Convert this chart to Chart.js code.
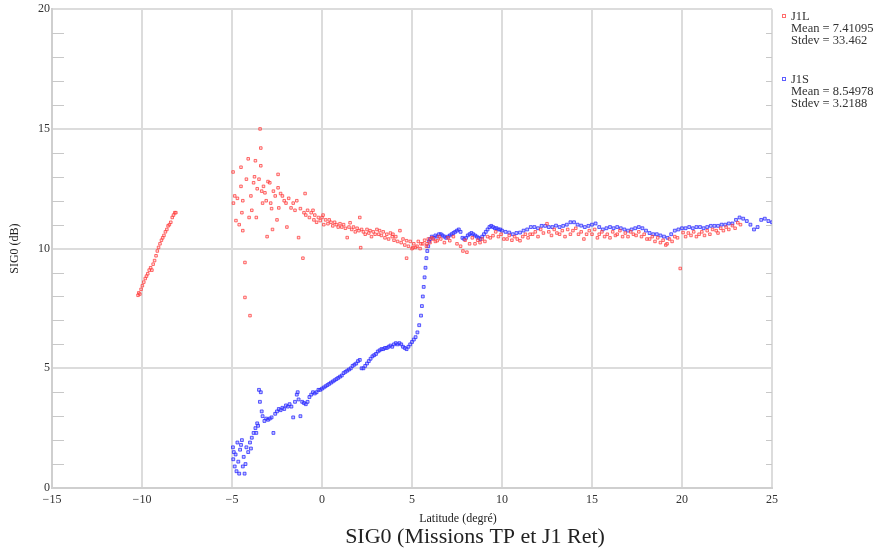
<!DOCTYPE html>
<html><head><meta charset="utf-8">
<script src="https://cdn.jsdelivr.net/npm/chart.js@4.4.1/dist/chart.umd.min.js"></script>
<style>html,body{margin:0;padding:0;background:#fff}#wrap{width:893px;height:552px;position:relative}</style>
</head><body><div id="wrap"><canvas id="c" width="893" height="552"></canvas></div>
<script>
// ---- data ----
const xTickLabels = [-15, -10, -5, 0, 5, 10, 15, 20, 25];
const yTickLabels = [0, 5, 10, 15, 20];
const seriesNames = ["J1L", "J1S"];
const seriesMeans = ["Mean = 7.41095", "Mean = 8.54978"];
const seriesStdevs = ["Stdev = 33.462", "Stdev = 3.2188"];

const j1lLat = [-10.22,-10.18,-10.12,-10.05,-9.98,-9.9,-9.82,-9.75,-9.68,-9.6,-9.52,-9.45,-9.38,-9.3,-9.22,-9.15,-9.08,-9.0,-8.92,-8.85,-8.78,-8.7,-8.62,-8.55,-8.48,-8.4,-8.32,-8.25,-8.18,-8.12,
-4.94,-4.92,-4.85,-4.78,-4.7,-4.6,-4.5,-4.5,-4.45,-4.4,-4.4,-4.28,-4.28,-4.2,-4.1,-4.05,-4.0,-3.95,-3.9,-3.8,-3.75,-3.7,-3.65,-3.6,-3.5,-3.44,-3.4,-3.4,-3.35,-3.3,-3.25,-3.17,-3.1,-3.05,-3.0,-2.9,-2.85,-2.8,-2.75,-2.7,-2.6,-2.5,-2.44,-2.44,-2.4,-2.3,-2.2,-2.1,-2.0,-1.95,-1.85,-1.72,-1.6,-1.5,-1.4,-1.3,-1.2,-1.06,-1.0,-0.94,-0.9,-0.8,-0.7,-0.6,-0.5,-0.45,-0.4,-0.3,-0.2,-0.1,0.0,0.06,0.1,0.2,0.33,0.4,0.5,0.6,0.7,0.8,0.9,1.0,1.1,1.2,1.3,1.4,1.5,1.56,1.65,1.75,1.85,1.95,2.05,2.1,2.15,2.2,2.3,2.4,2.5,2.6,2.67,2.75,2.85,2.95,3.05,3.15,3.2,3.3,3.4,3.5,3.6,3.7,3.8,3.9,3.94,4.0,4.1,4.2,4.33,4.4,4.5,4.6,4.7,4.7,4.8,4.9,5.0,5.05,5.1,5.2,5.28,5.35,5.45,5.5,5.6,5.7,5.8,5.83,5.9,6.0,6.1,6.17,6.3,6.4,6.5,
6.6,6.8,7.0,7.1,7.3,7.5,7.7,7.83,7.95,8.05,8.2,8.35,8.5,8.65,8.78,8.9,9.05,9.2,9.35,9.5,9.65,9.8,9.95,10.1,10.28,10.4,10.55,10.7,10.85,11.0,11.15,11.3,11.45,11.56,11.7,11.85,12.0,12.15,12.3,12.5,12.6,12.75,12.9,13.05,13.2,13.35,13.5,13.65,13.8,13.94,14.1,14.25,14.4,14.55,14.7,14.85,15.0,15.15,15.3,15.4,15.55,15.7,15.85,16.0,16.15,16.3,16.4,16.55,16.7,16.85,17.0,17.15,17.3,17.45,17.6,17.75,17.9,18.05,18.2,18.35,18.5,18.65,18.8,18.95,19.1,19.17,19.3,19.45,19.6,19.75,19.9,20.06,20.2,20.35,20.5,20.65,20.8,20.95,21.1,21.25,21.4,21.55,21.7,21.9,22.0,22.15,22.3,22.45,22.6,22.8,22.95,23.1,23.25];
const j1lSig0 = [8.05,8.15,8.1,8.3,8.45,8.6,8.75,8.85,8.95,9.1,9.2,9.1,9.35,9.5,9.7,9.9,10.05,10.2,10.35,10.45,10.55,10.7,10.8,10.95,11.0,11.1,11.3,11.4,11.5,11.5,
13.2,11.9,12.2,11.17,12.1,11.0,13.4,12.6,11.5,12.0,10.75,9.42,7.96,12.9,13.75,11.3,7.2,12.2,11.6,12.75,13.0,13.67,11.3,12.5,12.9,15.0,14.2,13.46,12.4,11.9,12.6,12.33,12.0,10.5,12.8,12.75,11.9,11.67,10.8,12.4,12.2,11.2,13.1,12.54,11.7,12.3,12.2,12.0,11.9,10.9,12.1,11.7,11.9,11.6,12.0,10.46,11.67,9.6,11.5,12.3,11.4,11.6,11.3,11.5,11.6,11.2,11.4,11.1,11.3,11.17,11.3,11.4,11.0,11.2,11.04,11.2,11.1,10.95,11.1,11.0,10.9,11.04,10.9,11.0,10.85,10.46,10.9,11.08,10.8,10.9,10.7,10.85,10.75,11.3,10.04,10.8,10.7,10.6,10.8,10.65,10.75,10.5,10.7,10.6,10.8,10.6,10.75,10.55,10.7,10.45,10.6,10.4,10.65,10.5,10.6,10.35,10.5,10.3,10.75,10.25,10.4,10.15,10.33,9.6,10.1,10.3,10.0,10.04,10.2,10.05,10.1,10.3,10.0,10.2,10.2,10.35,10.1,10.2,10.4,10.25,10.45,10.4,10.3,10.33,10.5,
10.4,10.25,10.45,10.33,10.5,10.2,10.1,9.9,10.35,9.85,10.2,10.45,10.2,10.35,10.25,10.4,10.3,10.5,10.45,10.54,10.7,10.5,10.6,10.4,10.4,10.55,10.35,10.5,10.4,10.33,10.5,10.6,10.45,10.6,10.6,10.7,10.5,10.8,10.65,11.04,10.7,10.55,10.8,10.65,10.6,10.75,10.5,10.8,10.6,10.75,10.85,10.6,10.7,10.4,10.6,10.75,10.6,10.8,10.45,10.6,10.7,10.5,10.6,10.45,10.7,10.55,10.6,10.75,10.5,10.65,10.5,10.7,10.6,10.55,10.7,10.5,10.6,10.4,10.4,10.5,10.3,10.45,10.25,10.35,10.15,10.2,10.4,10.3,10.5,10.45,9.17,10.67,10.5,10.65,10.55,10.7,10.5,10.6,10.7,10.55,10.75,10.6,10.8,10.75,10.65,10.85,10.75,10.9,10.8,10.96,10.85,11.08,11.0];

const j1sLat = [-4.95,-4.93,-4.9,-4.85,-4.8,-4.75,-4.7,-4.65,-4.6,-4.55,-4.5,-4.45,-4.4,-4.35,-4.3,-4.25,-4.2,-4.1,-4.0,-3.95,-3.9,-3.8,-3.7,-3.65,-3.6,-3.55,-3.5,-3.45,-3.4,-3.35,-3.3,-3.2,-3.1,-3.0,-2.9,-2.8,-2.7,-2.6,-2.5,-2.4,-2.3,-2.2,-2.1,-2.0,-1.9,-1.8,-1.7,-1.6,-1.5,-1.4,-1.35,-1.3,-1.2,-1.1,-1.0,-0.9,-0.8,-0.7,-0.6,-0.5,-0.4,-0.3,-0.2,-0.1,0.0,0.1,0.2,0.3,0.4,0.5,0.6,0.7,0.8,0.9,1.0,1.1,1.2,1.3,1.4,1.5,1.6,1.7,1.8,1.9,2.0,2.1,2.2,2.3,2.4,2.5,2.6,2.7,2.8,2.9,3.0,3.1,3.2,3.3,3.4,3.5,3.6,3.7,3.8,3.9,4.0,4.1,4.2,4.3,4.4,4.5,4.6,4.7,4.8,4.9,5.0,5.1,5.2,5.3,5.4,5.5,5.55,5.6,5.65,5.7,5.75,5.8,5.85,5.9,5.95,6.0,6.1,
6.2,6.3,6.4,6.5,6.6,6.7,6.8,6.9,7.0,7.1,7.2,7.3,7.4,7.5,7.6,7.7,7.8,7.9,8.0,8.1,8.2,8.3,8.4,8.5,8.6,8.7,8.8,8.9,9.0,9.1,9.2,9.3,9.4,9.5,9.6,9.7,9.8,9.9,10.0,10.2,10.4,10.6,10.8,11.0,11.2,11.4,11.6,11.8,12.0,12.2,12.4,12.6,12.8,13.0,13.2,13.4,13.6,13.8,14.0,14.2,14.4,14.6,14.8,15.0,15.2,15.4,15.6,15.8,16.0,16.2,16.4,16.6,16.8,17.0,17.2,17.4,17.6,17.8,18.0,18.2,18.4,18.6,18.8,19.0,19.2,19.4,19.6,19.8,20.0,20.2,20.4,20.6,20.8,21.0,21.2,21.4,21.6,21.8,22.0,22.2,22.4,22.6,22.8,23.0,23.2,23.4,23.6,23.8,24.0,24.2,24.4,24.6,24.8,25.0];
const j1sSig0 = [1.7,1.2,1.5,0.9,1.4,0.7,1.9,1.1,0.6,1.6,1.8,2.0,0.9,1.3,0.6,1.0,1.7,1.5,1.9,1.65,2.1,2.3,2.5,2.3,2.7,2.6,4.1,3.6,4.0,3.2,3.0,2.8,2.9,2.85,2.9,2.95,2.3,3.1,3.2,3.3,3.25,3.35,3.3,3.45,3.4,3.5,3.4,2.95,3.6,3.9,4.0,3.7,3.0,3.6,3.55,3.5,3.6,3.8,3.9,4.0,3.95,4.0,4.1,4.1,4.15,4.2,4.25,4.3,4.35,4.4,4.45,4.5,4.55,4.6,4.65,4.7,4.8,4.85,4.9,4.95,5.0,5.1,5.15,5.2,5.3,5.35,5.0,5.0,5.1,5.2,5.3,5.4,5.5,5.55,5.6,5.7,5.75,5.8,5.8,5.85,5.85,5.9,5.95,5.9,6.0,6.05,6.0,6.05,6.0,5.9,5.85,5.8,5.9,6.0,6.1,6.2,6.3,6.5,6.8,7.2,7.6,8.0,8.4,8.8,9.2,9.6,9.9,10.1,10.3,10.4,10.5,
10.45,10.55,10.5,10.6,10.6,10.55,10.5,10.45,10.5,10.55,10.6,10.65,10.7,10.75,10.8,10.7,10.45,10.4,10.45,10.55,10.6,10.65,10.6,10.55,10.5,10.45,10.4,10.5,10.6,10.7,10.8,10.9,10.95,10.9,10.85,10.85,10.8,10.8,10.75,10.7,10.67,10.6,10.65,10.67,10.75,10.8,10.9,10.9,10.85,10.95,10.95,10.9,10.9,10.96,10.9,10.95,11.0,11.1,11.1,11.0,10.96,10.9,10.95,11.0,11.05,10.9,10.8,10.85,10.9,10.85,10.9,10.85,10.8,10.75,10.8,10.85,10.9,10.85,10.75,10.65,10.6,10.6,10.55,10.5,10.45,10.6,10.75,10.8,10.85,10.85,10.9,10.85,10.9,10.9,10.85,10.9,10.95,10.95,10.95,11.0,11.0,11.05,11.05,11.2,11.3,11.25,11.15,11.0,10.8,10.9,11.2,11.25,11.15,11.1];

const pts = (xs, ys) => xs.map((x, i) => ({ x: x, y: ys[i] }));
const RED = 'rgba(255,60,60,0.75)';
const BLUE = 'rgba(40,40,255,0.75)';
const SERIF = '"Liberation Serif", "DejaVu Serif", serif';

const extras = {
  id: 'extras',
  afterDraw(chart) {
    const ctx = chart.ctx, ca = chart.chartArea, ys = chart.scales.y;
    ctx.save();
    // minor ticks
    ctx.strokeStyle = '#c8c8c8'; ctx.lineWidth = 1;
    for (let v = 1; v < 20; v++) {
      if (v % 5 === 0) continue;
      const py = Math.round(ys.getPixelForValue(v)) + 0.5;
      ctx.beginPath(); ctx.moveTo(ca.left, py); ctx.lineTo(ca.left + 12, py); ctx.stroke();
      ctx.beginPath(); ctx.moveTo(ca.right - 6, py); ctx.lineTo(ca.right, py); ctx.stroke();
    }
    // titles
    ctx.fillStyle = '#222'; ctx.textAlign = 'center'; ctx.textBaseline = 'middle';
    ctx.font = '12px ' + SERIF;
    ctx.fillText('Latitude (degré)', 458, 519);
    ctx.font = '22px ' + SERIF;
    ctx.fillText('SIG0 (Missions TP et J1 Ret)', 475, 537);
    // legend
    const colors = [RED, BLUE];
    const tops = [17, 80];
    ctx.textAlign = 'left'; ctx.font = '12.5px ' + SERIF; ctx.fillStyle = '#333';
    for (let i = 0; i < 2; i++) {
      ctx.strokeStyle = colors[i]; ctx.lineWidth = 1;
      ctx.strokeRect(782.5, tops[i] - 2.5, 3, 3);
      ctx.fillStyle = '#333';
      ctx.fillText(seriesNames[i], 791, tops[i]);
      ctx.fillText(seriesMeans[i], 791, tops[i] + 12);
      ctx.fillText(seriesStdevs[i], 791, tops[i] + 24);
    }
    ctx.restore();
  }
};

new Chart(document.getElementById('c'), {
  type: 'scatter',
  data: {
    datasets: [
      { label: seriesNames[0], data: pts(j1lLat, j1lSig0), pointStyle: 'rect', pointRadius: 1.8,
        borderColor: RED, backgroundColor: 'rgba(255,120,120,0.25)', borderWidth: 1 },
      { label: seriesNames[1], data: pts(j1sLat, j1sSig0), pointStyle: 'rect', pointRadius: 2,
        borderColor: BLUE, backgroundColor: 'rgba(80,80,255,0.35)', borderWidth: 1 }
    ]
  },
  options: {
    responsive: false, animation: false, devicePixelRatio: 1,
    layout: { padding: { left: 0, right: 121, top: 8, bottom: 0 } },
    plugins: { legend: { display: false }, tooltip: { enabled: false }, title: { display: false } },
    scales: {
      x: {
        type: 'linear', min: -15, max: 25,
        afterBuildTicks: s => { s.ticks = xTickLabels.map(v => ({ value: v })); },
        afterFit: s => { s.height = 64; },
        ticks: { color: '#333', font: { family: SERIF, size: 12 }, padding: 5,
                 callback: v => String(v).replace('-', '\u2212'), maxRotation: 0 },
        grid: { color: '#dcdcdc', lineWidth: 2, drawTicks: false },
        border: { color: '#cfcfcf', width: 2 }
      },
      y: {
        type: 'linear', min: 0, max: 20,
        afterBuildTicks: s => { s.ticks = yTickLabels.map(v => ({ value: v })); },
        afterFit: s => { s.width = 52; },
        ticks: { color: '#333', font: { family: SERIF, size: 12 }, padding: 2 },
        grid: { color: '#dcdcdc', lineWidth: 2, drawTicks: false },
        border: { color: '#cfcfcf', width: 2 },
        title: { display: true, text: 'SIG0 (dB)', color: '#222', font: { family: SERIF, size: 12 }, padding: { top: 8, bottom: 0 } }
      }
    }
  },
  plugins: [extras]
});
</script></body></html>
